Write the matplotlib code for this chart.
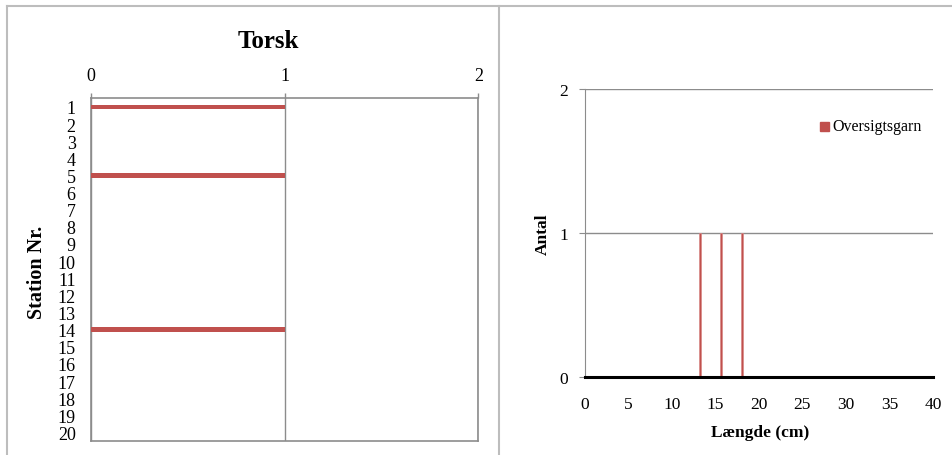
import numpy as np
import matplotlib
matplotlib.use('Agg')
import matplotlib.pyplot as plt
from matplotlib.lines import Line2D
from matplotlib.patches import Rectangle

# Data
stations = list(range(1, 21))
torsk_count = [1, 0, 0, 0, 1, 0, 0, 0, 0, 0, 0, 0, 0, 1, 0, 0, 0, 0, 0, 0]
torsk_xticks = [0, 1, 2]

lengths_cm = [13.2, 15.7, 18.1]
antal = [1, 1, 1]
length_ticks = [0, 5, 10, 15, 20, 25, 30, 35, 40]
antal_ticks = [0, 1, 2]

RED = '#C0504D'
GRID = '#8C8C8C'
FRAME = '#BDBDBD'

plt.rcParams['font.family'] = ['Liberation Serif', 'DejaVu Serif']
plt.rcParams['font.size'] = 12

W, H = 952, 456
fig = plt.figure(figsize=(W / 100, H / 100), dpi=100)

def fx(px):
    return px / W

def fy(py):
    return 1 - py / H

# chart-area frames
for seg in [((7, 952), (7, 7)), ((7, 7), (7, 456)), ((498.7, 498.7), (7, 456))]:
    fig.add_artist(Line2D([fx(seg[0][0]), fx(seg[0][1])], [fy(seg[1][0]), fy(seg[1][1])],
                          color=FRAME, lw=1.5, transform=fig.transFigure))

# 1. Left chart: Torsk per station
ax1 = fig.add_axes([fx(91), fy(442), fx(478.3) - fx(91), fy(99.3) - fy(442)])
ax1.barh(stations, torsk_count, height=0.27, color=RED, zorder=3)
ax1.set_ylim(20.5, 0.5)
ax1.set_xlim(0, 2)
ax1.set_yticks(stations)
ax1.set_yticklabels([str(s) for s in stations])
ax1.set_xticks(torsk_xticks)
ax1.xaxis.tick_top()
ax1.tick_params(axis='x', direction='out', length=3.6, width=1, color=GRID, pad=7)
ax1.tick_params(axis='y', length=0, pad=11)
ax1.tick_params(labelsize=13)
ax1.grid(axis='x', color=GRID, lw=1, zorder=1)
for s in ax1.spines.values():
    s.set_color(GRID)
    s.set_linewidth(1.2)

fig.text(fx(268), fy(42), 'Torsk', ha='center', va='center', fontsize=18, fontweight='bold')
fig.text(fx(37), fy(272), 'Station Nr.', ha='center', va='center', rotation=90,
         fontsize=14.5, fontweight='bold')

# 2. Right chart: length distribution
ax2 = fig.add_axes([fx(584.7), fy(377.7), fx(933) - fx(584.7), fy(90) - fy(377.7)])
ax2.bar(lengths_cm, antal, width=0.25, color=RED, edgecolor='#D98A88', lw=0.5, zorder=3,
        label='Oversigtsgarn')
ax2.set_xlim(0, 40)
ax2.set_ylim(0, 2)
ax2.set_xticks(length_ticks)
ax2.set_yticks(antal_ticks)
ax2.grid(axis='y', color=GRID, lw=1, zorder=1)
ax2.tick_params(axis='y', direction='out', length=4, color=GRID, pad=8)
ax2.tick_params(axis='x', length=0, pad=14)
ax2.tick_params(labelsize=12.5)
ax2.spines['top'].set_visible(False)
ax2.spines['right'].set_visible(False)
ax2.spines['left'].set_color(GRID)
ax2.spines['bottom'].set_color('black')
ax2.spines['bottom'].set_linewidth(2.2)
ax2.spines['bottom'].set_zorder(4)

fig.text(fx(543), fy(234), 'Antal', ha='center', va='center', rotation=90,
         fontsize=12.5, fontweight='bold')
fig.text(fx(760), fy(433), 'Længde (cm)', ha='center', va='center',
         fontsize=12.5, fontweight='bold')

# legend drawn as square marker + text
fig.add_artist(Rectangle((fx(820), fy(132)), fx(9), fy(123) - fy(132), color=RED,
                         transform=fig.transFigure))
fig.text(fx(832), fy(127.5), 'Oversigtsgarn', ha='left', va='center', fontsize=11.5)

plt.savefig('out.png', dpi=100)
